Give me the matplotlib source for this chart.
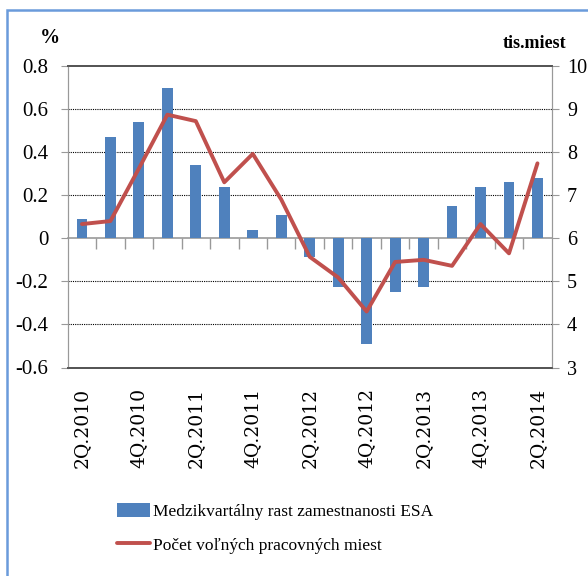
import numpy as np
import matplotlib.pyplot as plt
from matplotlib.patches import Rectangle

# quarterly data 2Q.2010 - 2Q.2014
quarters = ["2Q.2010", "3Q.2010", "4Q.2010", "1Q.2011", "2Q.2011", "3Q.2011",
            "4Q.2011", "1Q.2012", "2Q.2012", "3Q.2012", "4Q.2012", "1Q.2013",
            "2Q.2013", "3Q.2013", "4Q.2013", "1Q.2014", "2Q.2014"]
employment_growth = [0.09, 0.47, 0.54, 0.70, 0.34, 0.24, 0.04, 0.11, -0.085,
                     -0.225, -0.49, -0.25, -0.225, 0.15, 0.24, 0.26, 0.28]
vacancies = [6.33, 6.40, 7.62, 8.87, 8.72, 7.30, 7.96, 6.90, 5.57,
             5.09, 4.30, 5.45, 5.50, 5.36, 6.33, 5.65, 7.74]

bar_label = "Medzikvartálny rast zamestnanosti ESA"
line_label = "Počet voľných pracovných miest"

serif = "Liberation Serif"
blue = "#4F81BD"
red = "#C0504D"

fig = plt.figure(figsize=(5.88, 5.76), dpi=100)
ax = fig.add_axes([67.7 / 588, 1 - 367.5 / 576, 484 / 588, (367.5 - 66) / 576])
ax2 = ax.twinx()

x = np.arange(len(quarters))
bars = ax.bar(x, employment_growth, width=0.38, color=blue, zorder=3)
line, = ax2.plot(x, vacancies, color=red, lw=2.8, solid_capstyle="round", zorder=4)

ax.set_xlim(-0.5, len(quarters) - 0.5)
ax.set_ylim(-0.6, 0.8)
ax.set_yticks(np.arange(-0.6, 0.81, 0.2))
ax.set_yticklabels(["-0.6", "-0.4", "-0.2", "0", "0.2", "0.4", "0.6", "0.8"])
ax2.set_ylim(3, 10)
ax2.set_yticks(range(3, 11))

# dotted grid lines
for v in [-0.4, -0.2, 0.2, 0.4, 0.6]:
    ax.axhline(v, color="black", lw=0.8, ls=(0, (1, 1)), zorder=1)

# category labels at the bottom, every second quarter
ax.set_xticks(x[::2])
ax.set_xticklabels(quarters[::2], rotation=90, family="DejaVu Serif", fontsize=13.5)
ax.tick_params(axis="x", length=0, pad=15)

# zero line with category boundary ticks
zero_ax = ax.secondary_xaxis(0.6 / 1.4)
zero_ax.set_xticks(np.arange(0.5, len(quarters) - 1, 1))
zero_ax.set_xticklabels([])
zero_ax.tick_params(axis="x", direction="out", length=8, color="#999999", width=1)
zero_ax.spines["bottom"].set_color("#999999")
zero_ax.spines["bottom"].set_linewidth(1.2)

for a in (ax, ax2):
    for s in ("left", "right"):
        a.spines[s].set_color("#999999")
    a.spines["top"].set_color("#555555")
    a.spines["bottom"].set_color("#555555")
    a.spines["top"].set_linewidth(1.3)
    a.spines["bottom"].set_linewidth(1.3)

ax.tick_params(axis="y", direction="out", length=5, color="#999999", pad=9)
ax2.tick_params(axis="y", direction="out", length=5, color="#999999", pad=6)
for lab in ax.get_yticklabels():
    lab.set_family(serif)
    lab.set_fontsize(15)
for lab in ax2.get_yticklabels():
    lab.set_family(serif)
    lab.set_fontsize(14.5)

fig.text(50 / 588, 1 - 38 / 576, "%", family=serif, fontsize=14.5, fontweight="bold",
         ha="center", va="center")
fig.text(566 / 588, 1 - 43 / 576, "tis.miest", family=serif, fontsize=13,
         fontweight="bold", ha="right", va="center")

fig.legend([bars, line], [bar_label, line_label], loc="upper left",
           bbox_to_anchor=(110 / 588, 1 - 496 / 576), frameon=False,
           prop={"family": serif, "size": 12.5}, handlelength=1.9, handleheight=0.9,
           handletextpad=0.2, labelspacing=0.95, borderaxespad=0)

# outer chart border (top and left visible)
fig.add_artist(Rectangle((6.5 / 588, -0.2), 1.5, 1.2 - 10 / 576, transform=fig.transFigure,
                         fill=False, edgecolor="#6A9BDB", lw=1.8, clip_on=False))

fig.savefig("out.png", dpi=100)
